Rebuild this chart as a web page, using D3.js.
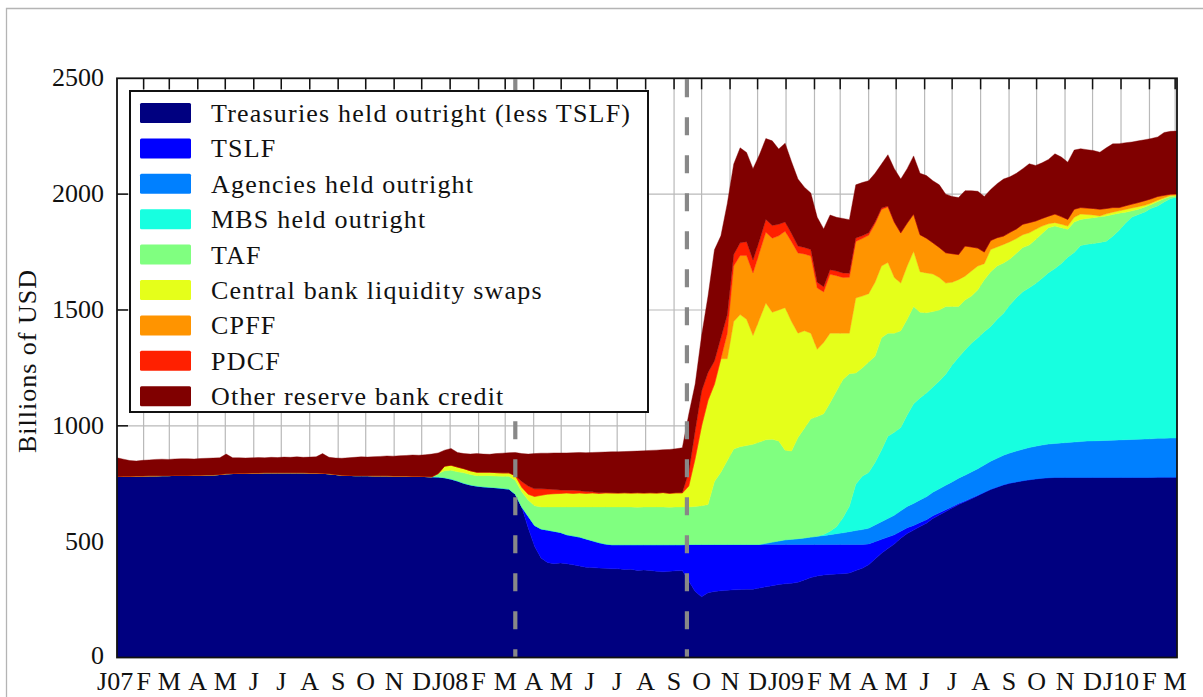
<!DOCTYPE html>
<html>
<head>
<meta charset="utf-8">
<script src="https://cdn.jsdelivr.net/npm/d3@7"></script>
<style>
  html, body { margin: 0; padding: 0; background: #fff; }
</style>
</head>
<body>
<svg id="chart" width="1203" height="697" font-family="'Liberation Serif', 'DejaVu Serif', serif"></svg>
<script>
// Weekly Federal Reserve balance-sheet components, billions of USD.
// One value per Wednesday, starting 3 Jan 2007 and ending 3 Mar 2010.
const firstWeek = new Date(2007, 0, 3);

const treasuries = [
  781,782,782,783,783,784,784,785,785,786,
  786,786,787,787,788,788,790,793,794,795,
  795,796,796,797,797,797,797,797,797,797,
  796,796,795,793,790,787,786,785,785,785,
  784,784,784,783,783,783,782,782,781,780,
  779,776,770,762,752,745,740,737,735,733,
  730,727,705,650,560,480,430,410,405,408,
  405,400,395,390,388,386,385,383,383,380,
  381,376,378,376,372,370,372,374,375,330,
  285,262,280,285,288,290,292,293,295,295,
  300,305,310,315,318,320,325,335,345,352,
  356,358,360,362,365,375,385,400,425,450,
  470,490,515,535,550,565,580,600,615,630,
  645,660,672,685,698,712,725,735,745,752,
  758,763,767,771,774,776,777,777,777,777,
  777,777,777,777,777,777,777,777,777,777,
  777,777,778,778,778,778
];

const tslf = [
  0,0,0,0,0,0,0,0,0,0,
  0,0,0,0,0,0,0,0,0,0,
  0,0,0,0,0,0,0,0,0,0,
  0,0,0,0,0,0,0,0,0,0,
  0,0,0,0,0,0,0,0,0,0,
  0,0,0,0,0,0,0,0,0,0,
  0,0,0,0,50,90,125,140,140,132,
  125,125,125,122,116,110,105,104,104,107,
  106,111,109,111,115,117,115,113,112,158,
  203,226,208,203,200,198,196,195,193,193,
  188,183,178,173,170,168,163,153,143,136,
  132,130,128,126,123,113,103,90,75,60,
  50,40,30,25,20,18,15,12,10,8,
  6,5,4,3,2,1,1,1,1,1,
  0,0,0,0,0,0,0,0,0,0,
  0,0,0,0,0,0,0,0,0,0,
  0,0,0,0,0,0
];

const agencies = [
  0,0,0,0,0,0,0,0,0,0,
  0,0,0,0,0,0,0,0,0,0,
  0,0,0,0,0,0,0,0,0,0,
  0,0,0,0,0,0,0,0,0,0,
  0,0,0,0,0,0,0,0,0,0,
  0,0,0,0,0,0,0,0,0,0,
  0,0,0,0,0,0,0,0,0,0,
  0,0,0,0,0,0,0,0,0,0,
  0,0,0,0,0,0,0,0,0,0,
  0,0,0,0,0,0,0,0,0,0,
  0,5,10,15,20,22,25,28,32,35,
  38,42,46,50,55,60,64,68,72,76,
  80,84,88,92,95,97,99,101,103,105,
  107,109,111,113,115,118,121,124,127,130,
  133,136,139,141,143,145,147,149,151,153,
  155,157,158,159,160,161,162,163,164,165,
  166,167,168,168,169,169
];

const mbs = [
  0,0,0,0,0,0,0,0,0,0,
  0,0,0,0,0,0,0,0,0,0,
  0,0,0,0,0,0,0,0,0,0,
  0,0,0,0,0,0,0,0,0,0,
  0,0,0,0,0,0,0,0,0,0,
  0,0,0,0,0,0,0,0,0,0,
  0,0,0,0,0,0,0,0,0,0,
  0,0,0,0,0,0,0,0,0,0,
  0,0,0,0,0,0,0,0,0,0,
  0,0,0,0,0,0,0,0,0,0,
  0,0,0,0,0,0,0,0,0,0,
  5,15,30,65,110,200,230,240,270,310,
  355,358,360,395,430,440,448,455,465,480,
  505,522,540,555,565,575,582,600,613,640,
  662,680,690,702,720,740,755,775,800,818,
  846,850,852,855,860,880,905,935,960,970,
  980,995,1003,1020,1034,1040
];

const taf = [
  0,0,0,0,0,0,0,0,0,0,
  0,0,0,0,0,0,0,0,0,0,
  0,0,0,0,0,0,0,0,0,0,
  0,0,0,0,0,0,0,0,0,0,
  0,0,0,0,0,0,0,0,0,0,
  15,30,38,40,45,45,45,48,50,50,
  52,55,60,65,70,85,95,100,105,110,
  120,125,130,138,146,154,160,163,163,163,
  163,162,163,163,163,163,162,163,163,162,
  164,167,172,272,312,362,412,422,427,432,
  442,447,444,432,387,381,437,474,510,517,
  521,555,586,597,572,480,468,477,458,484,
  445,428,417,413,420,370,346,325,307,292,
  252,219,216,204,207,224,236,230,217,197,
  192,191,184,190,193,194,183,154,120,132,
  113,111,111,111,109,94,74,47,27,23,
  22,16,19,14,9,5
];

const swaps = [
  0,0,0,0,0,0,0,0,0,0,
  0,0,0,0,0,0,0,0,0,0,
  0,0,0,0,0,0,0,0,0,0,
  0,0,0,0,0,0,0,0,0,0,
  0,0,0,0,0,0,0,0,0,0,
  0,20,22,20,18,16,15,15,15,15,
  15,15,20,20,25,40,50,55,57,58,
  60,58,60,58,60,58,60,60,60,61,
  60,62,60,61,60,62,60,61,60,90,
  208,345,450,420,490,440,550,570,545,470,
  530,590,548,565,615,559,450,420,370,290,
  308,300,250,200,175,324,310,295,320,310,
  305,240,206,230,239,175,172,162,140,101,
  105,116,103,108,103,70,96,82,80,75,
  63,55,53,44,32,17,15,15,14,20,
  23,17,12,4,9,10,10,12,12,11,
  7,7,6,4,4,4
];

const cpff = [
  0,0,0,0,0,0,0,0,0,0,
  0,0,0,0,0,0,0,0,0,0,
  0,0,0,0,0,0,0,0,0,0,
  0,0,0,0,0,0,0,0,0,0,
  0,0,0,0,0,0,0,0,0,0,
  0,0,0,0,0,0,0,0,0,0,
  0,0,0,0,0,0,0,0,0,0,
  0,0,0,0,0,0,0,0,0,0,
  0,0,0,0,0,0,0,0,0,0,
  0,0,0,0,0,110,240,255,275,270,
  288,306,320,320,330,345,346,332,333,265,
  218,254,248,240,241,244,248,253,252,244,
  240,238,216,185,160,160,150,135,130,131,
  123,108,130,104,77,50,39,40,36,40,
  42,45,44,36,33,33,37,33,29,35,
  28,28,28,29,23,20,14,16,17,18,
  20,18,16,11,6,5
];

const pdcf = [
  0,0,0,0,0,0,0,0,0,0,
  0,0,0,0,0,0,0,0,0,0,
  0,0,0,0,0,0,0,0,0,0,
  0,0,0,0,0,0,0,0,0,0,
  0,0,0,0,0,0,0,0,0,0,
  0,0,0,0,0,0,0,0,0,0,
  0,0,0,25,35,33,28,22,18,15,
  12,14,10,8,5,3,2,1,0,0,
  0,0,0,0,0,0,0,0,2,60,
  120,150,120,100,90,80,50,55,60,56,
  52,55,55,50,40,35,30,28,28,25,
  22,20,20,20,18,15,12,10,8,6,
  4,2,1,0,0,0,0,0,0,0,
  0,0,0,0,0,0,0,0,0,0,
  0,0,0,0,0,0,0,0,0,0,
  0,0,0,0,0,0,0,0,0,0,
  0,0,0,0,0,0
];

const otherCredit = [
  81,74,68,65,68,69,71,71,70,71,
  72,72,70,72,72,73,72,85,68,67,
  66,66,67,65,67,66,68,67,69,67,
  69,70,85,71,71,73,76,79,81,80,
  83,84,86,86,88,89,92,91,94,98,
  89,69,72,63,65,72,80,78,77,82,
  85,87,100,120,138,152,154,155,158,160,
  161,162,165,168,170,175,175,177,178,178,
  180,180,182,183,185,185,189,190,193,250,
  200,240,330,480,440,480,390,410,385,394,
  370,349,365,325,340,310,289,260,244,280,
  250,236,232,235,231,229,230,225,210,190,
  221,230,232,235,251,265,270,268,270,253,
  247,246,239,243,245,240,220,233,246,240,
  240,240,254,240,240,245,260,257,247,255,
  254,252,250,246,262,275,276,272,268,266,
  263,260,257,271,271,271
];

const seriesKeys = ["treasuries","tslf","agencies","mbs","taf","swaps","cpff","pdcf","other"];
const seriesLabels = [
  "Treasuries held outright (less TSLF)",
  "TSLF",
  "Agencies held outright",
  "MBS held outright",
  "TAF",
  "Central bank liquidity swaps",
  "CPFF",
  "PDCF",
  "Other reserve bank credit"
];
const seriesColors = ["#000080","#0000ff","#0080ff","#17ffe0","#80ff80","#e5ff1a","#ff9400","#ff2000","#800000"];
const seriesValues = [treasuries, tslf, agencies, mbs, taf, swaps, cpff, pdcf, otherCredit];

const monthLetters = ["J","F","M","A","M","J","J","A","S","O","N","D"];
const yTicks = [0, 500, 1000, 1500, 2000, 2500];
const eventDates = [new Date(2008, 2, 12), new Date(2008, 8, 15)];

// ---- layout ----
const W = 1203, H = 697;
const plot = { left: 117, right: 1177, top: 78.3, bottom: 657.5 };
const FONT = "'Liberation Serif', 'DejaVu Serif', serif";

const svg = d3.select("#chart");
svg.append("rect").attr("width", W).attr("height", H).attr("fill", "#fff");

// light page frame
svg.append("path")
  .attr("d", `M6.5,${H} V8.5 H${W}`)
  .attr("fill", "none").attr("stroke", "#b4b4b4").attr("stroke-width", 1.3);

const dates = treasuries.map((_, i) => d3.timeDay.offset(firstWeek, 7 * i));
const rows = dates.map((date, i) => {
  const r = { date };
  seriesKeys.forEach((k, j) => { r[k] = seriesValues[j][i]; });
  return r;
});

const x = d3.scaleTime().domain(d3.extent(dates)).range([plot.left, plot.right]);
const y = d3.scaleLinear().domain([0, 2500]).range([plot.bottom, plot.top]);

const months = d3.timeMonth.range(new Date(2007, 0, 1), new Date(2010, 2, 2));
const innerMonths = months.filter(m => x(m) > plot.left + 1 && x(m) < plot.right - 1);

// grid
const grid = svg.append("g").attr("stroke", "#b9b9b9").attr("stroke-width", 1.2);
grid.selectAll("line.v").data(innerMonths).join("line")
  .attr("x1", d => x(d)).attr("x2", d => x(d))
  .attr("y1", plot.top).attr("y2", plot.bottom);
grid.selectAll("line.h").data(yTicks.slice(1, -1)).join("line")
  .attr("x1", plot.left).attr("x2", plot.right)
  .attr("y1", d => y(d)).attr("y2", d => y(d));

// left ticks (under the areas)
svg.append("g").selectAll("line").data(yTicks.slice(1, -1)).join("line")
  .attr("x1", plot.left).attr("x2", plot.left + 11)
  .attr("y1", d => y(d)).attr("y2", d => y(d))
  .attr("stroke", "#111").attr("stroke-width", 1.5);

// stacked areas
const stack = d3.stack().keys(seriesKeys);
const layers = stack(rows);
const area = d3.area()
  .x(d => x(d.data.date))
  .y0(d => y(d[0]))
  .y1(d => y(d[1]));

svg.append("defs").append("clipPath").attr("id", "plotClip")
  .append("rect").attr("x", plot.left).attr("y", plot.top)
  .attr("width", plot.right - plot.left).attr("height", plot.bottom - plot.top);

svg.append("g").attr("clip-path", "url(#plotClip)")
  .selectAll("path").data(layers).join("path")
  .attr("d", area)
  .attr("fill", (d, i) => seriesColors[i])
  .attr("stroke", (d, i) => seriesColors[i])
  .attr("stroke-width", 0.4);

// event markers
svg.append("g").selectAll("line").data(eventDates).join("line")
  .attr("x1", d => x(d)).attr("x2", d => x(d))
  .attr("y1", plot.top + 1).attr("y2", plot.bottom)
  .attr("stroke", "#888").attr("stroke-width", 4.2)
  .attr("stroke-dasharray", "18 20");

// top ticks
svg.append("g").selectAll("line").data(innerMonths).join("line")
  .attr("x1", d => x(d)).attr("x2", d => x(d))
  .attr("y1", plot.top).attr("y2", plot.top + 11)
  .attr("stroke", "#111").attr("stroke-width", 1.5);

// axis frame
svg.append("rect")
  .attr("x", plot.left).attr("y", plot.top)
  .attr("width", plot.right - plot.left).attr("height", plot.bottom - plot.top)
  .attr("fill", "none").attr("stroke", "#111").attr("stroke-width", 1.8);

// y tick labels
svg.append("g").selectAll("text").data(yTicks).join("text")
  .attr("x", 104).attr("y", d => y(d) + (d === 0 ? 6 : 8))
  .attr("text-anchor", "end")
  .attr("font-family", FONT).attr("font-size", 26).attr("fill", "#111")
  .text(d => d);

// x tick labels
svg.append("g").selectAll("text").data(months).join("text")
  .attr("x", d => x(d)).attr("y", 690)
  .attr("text-anchor", "middle")
  .attr("font-family", FONT).attr("font-size", 26).attr("fill", "#111")
  .text(d => monthLetters[d.getMonth()] + (d.getMonth() === 0 ? d3.timeFormat("%y")(d) : ""));

// y axis title
svg.append("text")
  .attr("transform", "translate(36,361) rotate(-90)")
  .attr("text-anchor", "middle")
  .attr("font-family", FONT).attr("font-size", 26).attr("fill", "#111")
  .attr("letter-spacing", 1)
  .text("Billions of USD");

// legend
const legend = svg.append("g");
legend.append("rect")
  .attr("x", 130).attr("y", 91).attr("width", 518).attr("height", 321)
  .attr("fill", "#fff").attr("stroke", "#111").attr("stroke-width", 2);

const item = legend.selectAll("g.item").data(seriesLabels).join("g")
  .attr("transform", (d, i) => `translate(0,${113 + i * 35.4})`);
item.append("rect")
  .attr("x", 140).attr("y", -10).attr("width", 51).attr("height", 20)
  .attr("rx", 1.5)
  .attr("fill", (d, i) => seriesColors[i]);
item.append("text")
  .attr("x", 211).attr("y", 9)
  .attr("font-family", FONT).attr("font-size", 26).attr("fill", "#111")
  .attr("letter-spacing", 1.2)
  .text(d => d);
</script>
</body>
</html>
